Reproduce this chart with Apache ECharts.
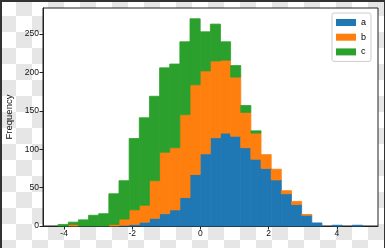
<!DOCTYPE html>
<html>
<head>
<meta charset="utf-8">
<script src="https://cdn.jsdelivr.net/npm/echarts@6/dist/echarts.min.js"></script>
<style>
  html, body { margin: 0; padding: 0; }
  body {
    width: 385px; height: 248px; overflow: hidden; position: relative;
    background-color: #ffffff;
    background-image: conic-gradient(#e6e6e6 25%, #ffffff 0 50%, #e6e6e6 0 75%, #ffffff 0);
    background-size: 32px 32px;
  }
  #chart { position: absolute; left: 0; top: 0; width: 385px; height: 248px; }
  .edge { position: absolute; background: #333; }
</style>
</head>
<body>
<div id="chart"></div>
<div class="edge" style="left:0;top:0;width:385px;height:2px;"></div>
<div class="edge" style="left:0;top:0;width:2px;height:248px;"></div>
<div class="edge" style="right:0;top:0;width:1px;height:248px;"></div>
<script>
// Histogram bin edges (31 edges -> 30 bins)
const binEdges = [-4.176, -3.878, -3.581, -3.283, -2.985, -2.688, -2.390, -2.092, -1.794, -1.497,
                  -1.199, -0.901, -0.604, -0.306, -0.008, 0.290, 0.587, 0.885, 1.183, 1.480,
                  1.778, 2.076, 2.373, 2.671, 2.969, 3.267, 3.564, 3.862, 4.160, 4.457, 4.755];
// Counts per bin for each column
const seriesNames = ['a', 'b', 'c'];
const countsA = [0,0,0,0,0,0,1,2,5,10,16,21,37,67,94,115,121,117,102,87,75,60,42,28,14,4,0,1,0,1];
const countsB = [0,2,0,0,0,2,8,19,22,49,80,81,108,117,108,100,95,77,46,34,18,14,4,4,1,0,0,0,0,0];
const countsC = [2,3,8,14,16,40,50,93,114,110,110,109,95,86,51,48,24,15,9,3,0,0,0,0,0,0,0,0,0,0];
// Tick labels
const xTicks = [-4, -2, 0, 2, 4];
const yTicks = [0, 50, 100, 150, 200, 250];

const colors = ['#1f77b4', '#ff7f0e', '#2ca02c'];
const allCounts = [countsA, countsB, countsC];

const base = binEdges.slice(0, -1).map(() => 0);
const series = allCounts.map((counts, si) => {
  const data = counts.map((v, i) => {
    const item = [binEdges[i], binEdges[i + 1], base[i], base[i] + v];
    base[i] += v;
    return item;
  });
  return {
    name: seriesNames[si],
    type: 'custom',
    itemStyle: { color: colors[si] },
    encode: { x: [0, 1], y: [2, 3] },
    data: data,
    renderItem: function (params, api) {
      const y0 = api.value(2), y1 = api.value(3);
      if (y1 <= y0) return null;
      const p0 = api.coord([api.value(0), y0]);
      const p1 = api.coord([api.value(1), y1]);
      return {
        type: 'rect',
        shape: { x: p0[0], y: p1[1], width: p1[0] - p0[0], height: p0[1] - p1[1] },
        style: { fill: colors[si], stroke: colors[si], lineWidth: 0.8 }
      };
    }
  };
});

const chart = echarts.init(document.getElementById('chart'), null, { renderer: 'canvas' });
const font = "'Liberation Sans', Arial, sans-serif";
chart.setOption({
  backgroundColor: 'transparent',
  animation: false,
  textStyle: { fontFamily: font },
  grid: {
    left: 43, right: 7, top: 8, bottom: 22,
    outerBoundsMode: 'none',
    containLabel: false,
    show: true, backgroundColor: '#ffffff', borderColor: '#222', borderWidth: 1
  },
  legend: {
    orient: 'vertical',
    left: 332, top: 13,
    padding: [5, 5, 5, 4],
    itemWidth: 20, itemHeight: 7, itemGap: 5.7,
    icon: 'rect',
    backgroundColor: '#ffffff',
    borderColor: '#cccccc', borderWidth: 1, borderRadius: 2,
    textStyle: { fontSize: 9, color: '#000', fontFamily: font },
    data: seriesNames
  },
  xAxis: {
    type: 'value',
    min: -4.62, max: 5.21,
    splitLine: { show: false },
    axisLine: { show: true, onZero: false, lineStyle: { color: '#222', width: 1 } },
    axisTick: { show: true, length: 3.5, lineStyle: { color: '#222' }, customValues: xTicks },
    axisLabel: { fontSize: 8.5, color: '#111', margin: 3.5, customValues: xTicks, fontFamily: font }
  },
  yAxis: {
    type: 'value',
    min: 0, max: 284,
    name: 'Frequency',
    nameLocation: 'middle',
    nameGap: 25,
    nameTextStyle: { fontSize: 9.5, color: '#111', fontFamily: font },
    splitLine: { show: false },
    axisLine: { show: true, onZero: false, lineStyle: { color: '#222', width: 1 } },
    axisTick: { show: true, length: 3.5, lineStyle: { color: '#222' }, customValues: yTicks },
    axisLabel: { fontSize: 8.5, color: '#111', margin: 4, customValues: yTicks, fontFamily: font }
  },
  series: series
});
</script>
</body>
</html>
